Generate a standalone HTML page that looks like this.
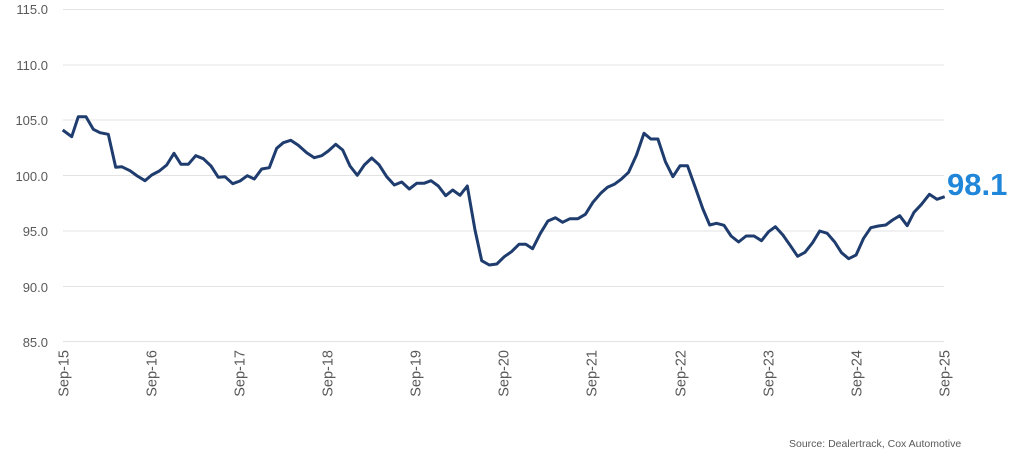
<!DOCTYPE html>
<html><head><meta charset="utf-8"><style>
html,body{margin:0;padding:0;background:#fff;}
svg{display:block;font-family:"Liberation Sans",Arial,sans-serif;}
</style></head><body>
<svg width="1024" height="462" viewBox="0 0 1024 462" xmlns="http://www.w3.org/2000/svg">
<g stroke="#e3e3e3" stroke-width="1">
<line x1="63" x2="944" y1="9.5" y2="9.5"/>
<line x1="63" x2="944" y1="65" y2="65"/>
<line x1="63" x2="944" y1="120" y2="120"/>
<line x1="63" x2="944" y1="175.5" y2="175.5"/>
<line x1="63" x2="944" y1="231" y2="231"/>
<line x1="63" x2="944" y1="286.5" y2="286.5"/>
<line x1="63" x2="944" y1="341.5" y2="341.5"/>
</g>
<g fill="#595959" font-size="13" text-anchor="end">
<text x="48" y="14">115.0</text>
<text x="48" y="70">110.0</text>
<text x="48" y="125">105.0</text>
<text x="48" y="181">100.0</text>
<text x="48" y="236">95.0</text>
<text x="48" y="292">90.0</text>
<text x="48" y="347">85.0</text>
</g>
<g fill="#595959" font-size="14.5" text-anchor="end">
<text transform="translate(68.5,350) rotate(-90)">Sep-15</text>
<text transform="translate(156.5,350) rotate(-90)">Sep-16</text>
<text transform="translate(244.5,350) rotate(-90)">Sep-17</text>
<text transform="translate(332.5,350) rotate(-90)">Sep-18</text>
<text transform="translate(420.5,350) rotate(-90)">Sep-19</text>
<text transform="translate(508.5,350) rotate(-90)">Sep-20</text>
<text transform="translate(596.5,350) rotate(-90)">Sep-21</text>
<text transform="translate(685.5,350) rotate(-90)">Sep-22</text>
<text transform="translate(773.5,350) rotate(-90)">Sep-23</text>
<text transform="translate(861.5,350) rotate(-90)">Sep-24</text>
<text transform="translate(949.5,350) rotate(-90)">Sep-25</text>
</g>
<polyline fill="none" stroke="#1f3c6e" stroke-width="3" stroke-linejoin="round" points="
62.7,130 71.7,136.7 78.3,116.7 86,116.7 93.3,129.3 100,132.7 108.3,134.3 115.7,167.3 121.7,166.7 130,170.7 137.3,176 145,180.7 151.7,175 159.3,171 166.7,165 174,153.3 181,164.3 188.3,164.3 195.7,155.7 203.3,158.7 211,166 218.3,177.3 225,176.7 232.7,183.7 240,181 247.3,175.7 254.3,179 261.7,169 269.3,167.7 276.7,148.3 283.3,142.7 290.7,140.3 298.3,145.3 306.7,152.7 314.3,157.7 321.7,155.7 328.3,151 335.7,144.3 342.7,150 350,166 357.3,175.3 364.3,165 371.7,158 379,164.7 386.7,176.7 394.3,185 401.7,182 409.3,189 416.7,183.3 424,183.3 431,180.7 438.3,186 445.7,195.7 452.7,190 460,195.3 467.3,186 475,230 481.7,260.7 489.3,265
496.8,264 504.3,256.7 511.5,251.7 519,244.3 525.8,244.3 532.6,248.7 540.4,233.3 547.9,221 555.4,217.7 562.5,222.3 570,218.7 577.9,218.7 585.4,214.3 592.9,202.3 600.7,193.3 607.5,187.3 614.3,184.3 621.1,179.3 628.6,172.3 636.5,155 644,133.3 650.8,139 657.9,139 665.4,161.7 672.9,176.7 680.1,165.7 687.5,165.7 695.4,187.7 702.9,209 709.7,225 716.5,223.3 724,225.3 731.1,236 738.6,242 746.1,236 754,236 761.5,240.7 768.6,231.7 775.4,226.7 782.9,235 790.4,245.7 797.6,256.3 805,252.3 812.6,242.7 819.7,231 827.2,233.3 834.7,242 841.5,252.7 848.7,258.7 856.1,255 863.6,238.3 870.8,227.7 878.3,226 885.8,225 892.6,220 899.7,215.7 907.2,225.7 914,212.3 921.5,204.3 929.4,194.3 936.9,199.3 944.7,196.7"/>
<text x="947" y="195" fill="#1f86d9" font-size="31" font-weight="bold">98.1</text>
<text x="789" y="447" fill="#595959" font-size="10.5">Source: Dealertrack, Cox Automotive</text>
</svg>
</body></html>
